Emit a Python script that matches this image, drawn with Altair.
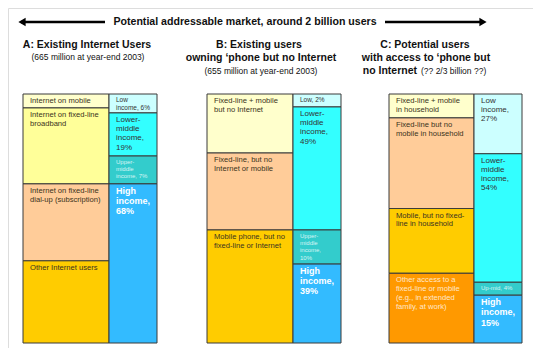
import altair as alt
import pandas as pd

FONT = "Liberation Sans"

# ---------------- data (visual shares of each column) -------------
a_left_cats = ["Internet on mobile", "Fixed broadband", "Fixed dial-up", "Other Internet"]
a_left_labels = ["Internet on mobile", "Internet on fixed-line\nbroadband",
                 "Internet on fixed-line\ndial-up (subscription)", "Other Internet users"]
a_left_values = [5.6, 30.5, 30.9, 33.0]

a_right_cats = ["Low", "Lower-middle", "Upper-middle", "High"]
a_right_labels = ["Low\nincome, 6%", "Lower-\nmiddle\nincome,\n19%", "Upper-\nmiddle\nincome, 7%",
                  "High\nincome,\n68%"]
a_right_values = [7.6, 17.3, 11.2, 63.9]

b_left_cats = ["Fixed+mobile", "Fixed only", "Mobile only"]
b_left_labels = ["Fixed-line + mobile\nbut no Internet", "Fixed-line, but no\nInternet or mobile",
                 "Mobile phone, but no\nfixed-line or Internet"]
b_left_values = [23.7, 30.9, 45.4]

b_right_cats = ["Low", "Lower-middle", "Upper-middle", "High"]
b_right_labels = ["Low, 2%", "Lower-\nmiddle\nincome,\n49%", "Upper-\nmiddle\nincome,\n10%",
                  "High\nincome,\n39%"]
b_right_values = [5.2, 49.4, 13.7, 31.7]

c_left_cats = ["Fixed+mobile", "Fixed only", "Mobile only", "Other access"]
c_left_labels = ["Fixed-line + mobile\nin household", "Fixed-line but no\nmobile in household",
                 "Mobile, but no fixed-\nline in household",
                 "Other access to a\nfixed-line or mobile\n(e.g., in extended\nfamily, at work)"]
c_left_values = [9.6, 36.4, 26.0, 28.0]

c_right_cats = ["Low", "Lower-middle", "Upper-middle", "High"]
c_right_labels = ["Low\nincome,\n27%", "Lower-\nmiddle\nincome,\n54%", "Up-mid, 4%",
                  "High\nincome,\n15%"]
c_right_values = [24.0, 51.6, 5.2, 19.2]

columns = [
    ("A", "L", a_left_cats, a_left_labels, a_left_values),
    ("A", "R", a_right_cats, a_right_labels, a_right_values),
    ("B", "L", b_left_cats, b_left_labels, b_left_values),
    ("B", "R", b_right_cats, b_right_labels, b_right_values),
    ("C", "L", c_left_cats, c_left_labels, c_left_values),
    ("C", "R", c_right_cats, c_right_labels, c_right_values),
]

rows = []
for p, c, cats, labels, values in columns:
    for i, (cat, lab, v) in enumerate(zip(cats, labels, values)):
        rows.append({"panel": p, "col": c, "cat": cat, "label": lab, "value": v, "order": i})
df = pd.DataFrame(rows)

# ---------------- styles ----------------
cat_domain = ["Internet on mobile", "Fixed broadband", "Fixed dial-up", "Other Internet",
              "Fixed+mobile", "Fixed only", "Mobile only", "Other access",
              "Low", "Lower-middle", "Upper-middle", "High"]
cat_colors = ["#FFFFCC", "#FFFF99", "#FFCC99", "#FFCC00",
              "#FFFFCC", "#FFCC99", "#FFCC00", "#FF9900",
              "#CCFFFF", "#33FFFF", "#33CCCC", "#33BBFF"]

col_px = {("A", "L"): (15, 101), ("A", "R"): (101, 149),
          ("B", "L"): (199, 285), ("B", "R"): (285, 333),
          ("C", "L"): (381, 466), ("C", "R"): (466, 514)}

def text_style(panel, col, cat):
    if col == "L":
        if cat == "Other access":
            return dict(fontSize=7.6, color="#FFE8CC", fontWeight="normal")
        return dict(fontSize=7.6, color="#3a3320", fontWeight="normal")
    if cat == "High":
        return dict(fontSize=9, color="white", fontWeight="bold")
    if cat == "Upper-middle":
        return dict(fontSize=6, color="#D8F4F4", fontWeight="normal")
    if cat == "Low" and panel != "C":
        return dict(fontSize=6.5, color="#333333", fontWeight="normal")
    return dict(fontSize=8, color="#333333", fontWeight="normal")

yscale = alt.Scale(domain=[0, 100], range=[86, 335], nice=False, zero=False)

base = alt.Chart(df)
layers = []
for p, c, cats, labels, values in columns:
    x0, x1 = col_px[(p, c)]
    stacked = base.transform_filter(
        (alt.datum.panel == p) & (alt.datum.col == c)
    ).transform_stack(stack="value", groupby=["col"], as_=["y0", "y1"],
                      sort=[alt.SortField("order", order="ascending")])
    rects = stacked.mark_rect(stroke="#3a3a3a", strokeWidth=1).encode(
        x=alt.value(x0), x2=alt.value(x1),
        y=alt.Y("y0:Q", scale=yscale, axis=None),
        y2="y1:Q",
        color=alt.Color("cat:N", scale=alt.Scale(domain=cat_domain, range=cat_colors), legend=None),
    )
    layers.append(rects)
    for i, cat in enumerate(cats):
        st = text_style(p, c, cat)
        t = stacked.transform_filter(alt.datum.order == i).mark_text(
            align="left", baseline="top", lineBreak="\n", font=FONT, dy=3,
            lineHeight=st["fontSize"] + 1.2, **st
        ).encode(
            x=alt.value(x0 + 7),
            y=alt.Y("y0:Q", scale=yscale, axis=None),
            text="label:N",
        )
        layers.append(t)

# ---------------- decorations (titles, arrows) ----------------
deco = alt.Chart(pd.DataFrame({"k": [0]}))

def txt(s, x, y, size, weight="normal", align="center", color="#111111"):
    return deco.mark_text(text=s, font=FONT, fontSize=size, fontWeight=weight,
                          align=align, baseline="middle", color=color).encode(
        x=alt.value(x), y=alt.value(y))

layers += [
    deco.mark_rule(color="black", strokeWidth=2.5).encode(x=alt.value(13), x2=alt.value(97), y=alt.value(14)),
    deco.mark_rule(color="black", strokeWidth=2.5).encode(x=alt.value(377), x2=alt.value(475), y=alt.value(14)),
    deco.mark_point(shape="triangle-left", filled=True, size=70, color="black", opacity=1).encode(
        x=alt.value(14), y=alt.value(14)),
    deco.mark_point(shape="triangle-right", filled=True, size=70, color="black", opacity=1).encode(
        x=alt.value(475), y=alt.value(14)),
    txt("Potential addressable market, around 2 billion users", 237, 14, 10.6, "bold"),
    txt("A: Existing Internet Users", 79, 37, 10.5, "bold"),
    txt("(665 million at year-end 2003)", 80, 49, 8.5),
    txt("B: Existing users", 251, 37, 10.5, "bold"),
    txt("owning \u2018phone but no Internet", 253, 50, 10.5, "bold"),
    txt("(655 million at year-end 2003)", 253, 63, 8.5),
    txt("C: Potential users", 417, 37, 10.5, "bold"),
    txt("with access to \u2018phone but", 418, 50, 10.5, "bold"),
    txt("no Internet", 409, 63, 10.5, "bold", align="right"),
    txt("(?? 2/3 billion ??)", 413, 63, 8.5, align="left"),
]

chart = alt.layer(*layers).properties(
    width=525, height=340, padding=0,
    autosize=alt.AutoSizeParams(type="none"),
).configure_view(stroke=None).configure(background="white")

chart.save("out.html", embed_options={"renderer": "svg", "actions": False})
